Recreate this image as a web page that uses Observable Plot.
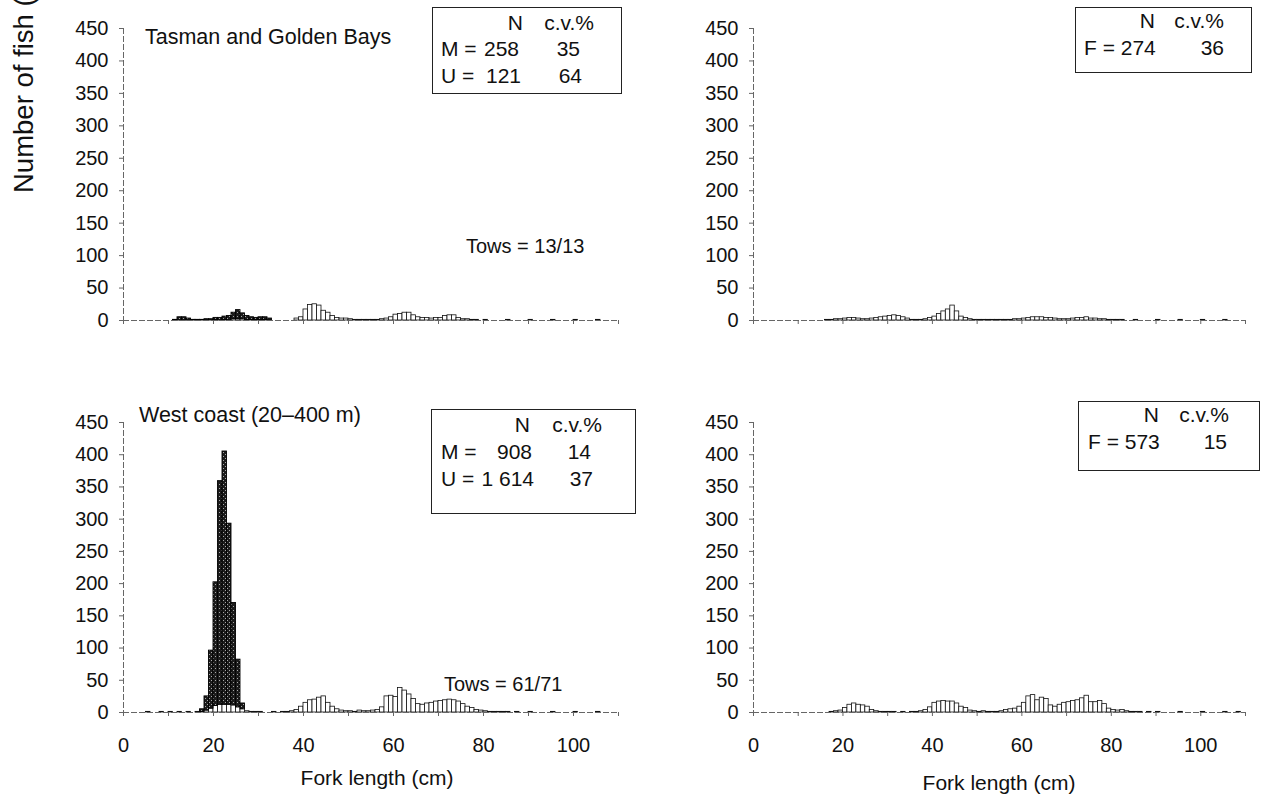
<!DOCTYPE html>
<html><head><meta charset="utf-8">
<script src="https://cdn.jsdelivr.net/npm/d3@7"></script>
<script src="https://cdn.jsdelivr.net/npm/@observablehq/plot@0.6"></script>
<style>
body{margin:0;background:#fff;font-family:"Liberation Sans",Arial,sans-serif;color:#111;}
#root{position:relative;width:1271px;height:800px;overflow:hidden;background:#fff;}
.panel{position:absolute;}
.txt{position:absolute;font-size:20px;white-space:nowrap;line-height:1;}
.box{position:absolute;border:1.5px solid #222;background:#fff;font-size:21px;box-sizing:border-box;}
.box span{position:absolute;white-space:nowrap;line-height:1;}
</style></head>
<body><div id="root"></div>
<script>
// ---- Tasman and Golden Bays: males (M), unsexed (U), females (F) ----
const tgbU_len = [11,12,13,14,15,16,17,18,19,20,21,22,23,24,25,26,27,28,29,30,31,32];
const tgbU_n   = [1,5,5,3,1,1,1,2,2,3,4,5,7,10,14,9,6,4,3,4,4,3];
const tgbM_len = [20,22,24,25,26,27,28,29,30,31,38,39,40,41,42,43,44,45,46,47,48,49,50,51,52,53,54,55,56,57,58,59,60,61,62,63,64,65,66,67,68,69,70,71,72,73,74,75,76,77,78,80,85,90,95,100,105];
const tgbM_n   = [1,1,2,2,2,1,1,1,1,1,3,5,17,24,25,23,15,12,7,4,3,3,2,1,1,1,1,1,1,2,3,5,9,10,12,12,8,5,4,4,3,4,4,7,8,8,4,2,2,1,1,1,1,1,1,1,1];
const tgbF_len = [16,17,18,19,20,21,22,23,24,25,26,27,28,29,30,31,32,33,34,35,36,37,38,39,40,41,42,43,44,45,46,47,48,49,50,51,52,53,54,55,56,57,58,59,60,61,62,63,64,65,66,67,68,69,70,71,72,73,74,75,76,77,78,79,80,81,82,85,90,95,100,105];
const tgbF_n   = [1,1,2,2,3,4,4,3,2,2,3,4,5,6,7,8,7,5,3,1,1,1,2,4,6,10,14,17,23,14,6,4,2,1,1,1,1,1,1,1,1,1,2,2,3,4,5,5,5,4,4,3,2,2,2,3,4,4,5,3,3,2,2,1,1,1,1,1,1,1,1,1];

// ---- West coast (20-400 m) ----
const wcU_len = [17,18,19,20,21,22,23,24,25,26];
const wcU_n   = [4,22,90,192,347,393,281,159,74,9];
const wcM_len = [5,8,10,12,14,16,17,18,19,20,21,22,23,24,25,26,27,28,29,30,33,35,36,37,38,39,40,41,42,43,44,45,46,47,48,49,50,51,52,53,54,55,56,57,58,59,60,61,62,63,64,65,66,67,68,69,70,71,72,73,74,75,76,77,78,79,80,81,82,83,84,85,87,90,95,100,105];
const wcM_n   = [1,1,1,1,1,1,1,3,6,10,12,12,12,11,8,5,2,1,1,1,1,1,1,2,4,9,15,19,20,23,25,15,9,5,3,2,2,1,3,2,2,3,4,8,25,26,24,38,34,28,21,13,12,14,15,17,18,19,20,19,17,13,9,7,4,3,2,1,1,1,1,1,1,1,1,1,1];
const wcF_len = [17,18,19,20,21,22,23,24,25,26,27,28,29,30,31,33,35,36,37,38,39,40,41,42,43,44,45,46,47,48,49,50,51,52,53,54,55,56,57,58,59,60,61,62,63,64,65,66,67,68,69,70,71,72,73,74,75,76,77,78,79,80,81,82,83,84,85,86,88,90,95,100,105,108];
const wcF_n   = [1,2,3,7,12,14,12,11,9,4,2,1,1,1,1,1,1,1,2,4,8,15,17,18,17,17,14,9,7,3,2,1,2,1,1,1,2,4,5,6,9,15,25,27,19,23,21,11,9,12,15,16,18,19,22,26,16,16,18,13,6,4,3,4,2,1,1,1,1,1,1,1,1,1];

const yTicks = [0,50,100,150,200,250,300,350,400,450];
const xTicks = [0,10,20,30,40,50,60,70,80,90,100,110];
const xTickLabels = [0,20,40,60,80,100];

const regionLabels = ["Tasman and Golden Bays", "West coast (20\u2013400 m)"];
const towLabels = ["Tows = 13/13", "Tows = 61/71"];

function rows(len, n) { return len.map((l, i) => ({len: l, n: n[i]})); }
function stacked(mLen, mN, uLen, uN) {
  const m = new Map(mLen.map((l, i) => [l, mN[i]]));
  return uLen.map((l, i) => ({len: l, y1: m.get(l) || 0, y2: (m.get(l) || 0) + uN[i]}));
}

const root = document.getElementById("root");
const svgNS = "http://www.w3.org/2000/svg";
let panelId = 0;

function makePanel({left, top, width, height, mT, mB, mL, mR, white, dark, labels}) {
  const pid = "stipple" + (panelId++);
  const marks = [
    Plot.rectY(white, {x1: d => d.len, x2: d => d.len + 1, y: "n", fill: "white", stroke: "#111", strokeWidth: 0.8}),
  ];
  if (dark) marks.push(Plot.rect(dark, {x1: d => d.len, x2: d => d.len + 1, y1: "y1", y2: "y2", fill: `url(#${pid})`, stroke: "#000", strokeWidth: 0.9}));
  marks.push(
    Plot.ruleX([0], {stroke: "#666", strokeDasharray: "6,2", strokeWidth: 1}),
    Plot.ruleY([0], {stroke: "#666", strokeDasharray: "6,2", strokeWidth: 1}),
    Plot.axisY({ticks: yTicks, tickSize: 4, tickPadding: 11, label: null, stroke: "#666"}),
    Plot.axisX({ticks: xTicks, tickSize: 4, tickPadding: 21, label: null, stroke: "#666",
      tickFormat: d => labels && xTickLabels.includes(d) ? String(d) : ""})
  );
  const p = Plot.plot({
    width, height, marginTop: mT, marginBottom: mB, marginLeft: mL, marginRight: mR,
    x: {domain: [0, 110]}, y: {domain: [0, 450]},
    style: {fontFamily: "'Liberation Sans', Arial, sans-serif", fontSize: "20px", color: "#111", background: "transparent", overflow: "visible"},
    marks
  });
  // stippled fill for the unsexed bars
  const defs = document.createElementNS(svgNS, "defs");
  const pat = document.createElementNS(svgNS, "pattern");
  pat.setAttribute("id", pid); pat.setAttribute("width", 4); pat.setAttribute("height", 4);
  pat.setAttribute("patternUnits", "userSpaceOnUse");
  const bg = document.createElementNS(svgNS, "rect");
  bg.setAttribute("width", 4); bg.setAttribute("height", 4); bg.setAttribute("fill", "#1c1c1c");
  pat.appendChild(bg);
  for (const [dx, dy] of [[1, 0], [3, 2]]) {
    const dot = document.createElementNS(svgNS, "rect");
    dot.setAttribute("x", dx); dot.setAttribute("y", dy); dot.setAttribute("width", 1); dot.setAttribute("height", 1);
    dot.setAttribute("fill", "#a8a8a8");
    pat.appendChild(dot);
  }
  defs.appendChild(pat);
  p.insertBefore(defs, p.firstChild);
  p.classList.add("panel");
  p.style.left = left + "px"; p.style.top = top + "px";
  root.appendChild(p);
}

makePanel({left: 0, top: 0, width: 640, height: 346, mT: 28, mB: 26, mL: 123, mR: 22,
  white: rows(tgbM_len, tgbM_n), dark: stacked(tgbM_len, tgbM_n, tgbU_len, tgbU_n), labels: false});
makePanel({left: 630, top: 0, width: 641, height: 346, mT: 28, mB: 26, mL: 123, mR: 26,
  white: rows(tgbF_len, tgbF_n), dark: null, labels: false});
makePanel({left: 0, top: 390, width: 640, height: 410, mT: 32, mB: 88, mL: 123, mR: 22,
  white: rows(wcM_len, wcM_n), dark: stacked(wcM_len, wcM_n, wcU_len, wcU_n), labels: true});
makePanel({left: 630, top: 390, width: 641, height: 410, mT: 32, mB: 88, mL: 123, mR: 26,
  white: rows(wcF_len, wcF_n), dark: null, labels: true});

function txt(s, x, y, opts = {}) {
  const d = document.createElement("div");
  d.className = "txt"; d.textContent = s;
  d.style.left = x + "px"; d.style.top = y + "px";
  if (opts.size) d.style.fontSize = opts.size + "px";
  if (opts.center) d.style.transform = "translateX(-50%)";
  root.appendChild(d); return d;
}

function box(x, y, w, h, items) {
  const b = document.createElement("div");
  b.className = "box";
  b.style.left = x + "px"; b.style.top = y + "px"; b.style.width = w + "px"; b.style.height = h + "px";
  for (const [s, rx, ry, align] of items) {
    const sp = document.createElement("span");
    sp.textContent = s;
    sp.style.top = ry + "px";
    if (align === "r") sp.style.right = rx + "px"; else sp.style.left = rx + "px";
    b.appendChild(sp);
  }
  root.appendChild(b);
}

// y-axis title (clipped at the top edge, as in the source figure)
const yt = txt("Number of fish (thousands)", 10, 193, {size: 27.5});
yt.style.transformOrigin = "left top";
yt.style.transform = "rotate(-90deg)";

txt(regionLabels[0], 145, 27, {size: 21.5});
txt(towLabels[0], 466, 236);
txt(regionLabels[1], 139, 405, {size: 21.5});
txt(towLabels[1], 444, 674);

txt("Fork length (cm)", 377, 767, {center: true, size: 21});
txt("Fork length (cm)", 999, 772, {center: true, size: 21});

box(432, 7, 190, 87, [["N", 98, 4, "r"], ["c.v.%", 27, 4, "r"],
  ["M =", 8, 30, "l"], ["258", 102, 30, "r"], ["35", 41, 30, "r"],
  ["U =", 8, 57, "l"], ["121", 100, 57, "r"], ["64", 39, 57, "r"]]);
box(1075, 7, 177, 66, [["N", 96, 2, "r"], ["c.v.%", 27, 2, "r"],
  ["F = 274", 8, 29, "l"], ["36", 27, 29, "r"]]);
box(431, 409, 205, 105, [["N", 105, 4, "r"], ["c.v.%", 33, 4, "r"],
  ["M =", 9, 31, "l"], ["908", 103, 31, "r"], ["14", 44, 31, "r"],
  ["U =", 9, 58, "l"], ["1 614", 101, 58, "r"], ["37", 42, 58, "r"]]);
box(1078, 401, 182, 70, [["N", 100, 2, "r"], ["c.v.%", 30, 2, "r"],
  ["F = 573", 9, 29, "l"], ["15", 32, 29, "r"]]);
</script>
</body></html>
